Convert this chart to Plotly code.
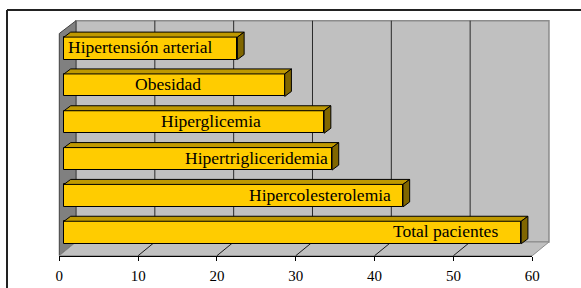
import plotly.graph_objects as go

# ---- data ----
categories = ["Total pacientes", "Hipercolesterolemia", "Hipertrigliceridemia",
              "Hiperglicemia", "Obesidad", "Hipertensión arterial"]
values = [58, 43, 34, 33, 28, 22]
label_pos = [48.4, 32.5, 24.4, 18.7, 13.2, 9.7]   # where the (manually placed) labels sit
tick_vals = [0, 10, 20, 30, 40, 50, 60]
tick_text = ["0", "10", "20", "30", "40", "50", "60"]

# ---- geometry (pixels) ----
W, H = 581, 288
FX0, SCALE = 59.3, 7.883          # front floor axis: pixel of 0, px per unit
YFRONT, YBACK = 255.7, 242.0      # floor front / back edge
BX0 = 76.0                        # back wall pixel of 0
WALL_TOP = 20.7
BAR_X0 = 64.0                     # bar front face pixel of 0
ROW0_PY, PITCH = 232.5, 36.83     # y pixel of first category centre, pixel pitch
BAR_W = 0.611
DX_PX, DY_PX = 6.7, 5.0           # bar depth offset in pixels

def px(x):
    return x / W

def py(y):
    return 1 - y / H

xr = [-BAR_X0 / SCALE, (W - BAR_X0) / SCALE]
yr = [-(H - ROW0_PY) / PITCH, ROW0_PY / PITCH]
dx = DX_PX / SCALE
dy = DY_PX / PITCH

shapes = []

def poly(pts, fill, line, lw=1, ref="paper", layer="below"):
    path = "M " + " L ".join(f"{a},{b}" for a, b in pts) + " Z"
    shapes.append(dict(type="path", path=path, xref=ref if ref == "paper" else "x",
                       yref=ref if ref == "paper" else "y",
                       fillcolor=fill, line=dict(color=line, width=lw), layer=layer))

def ppt(x, y):
    return (px(x), py(y))

x_end_front = FX0 + SCALE * 60
x_end_back = BX0 + SCALE * 60

# back wall
poly([ppt(BX0, WALL_TOP), ppt(x_end_back, WALL_TOP), ppt(x_end_back, YBACK), ppt(BX0, YBACK)],
     "#C0C0C0", "#8C8C8C", 1.5)
# left wall
poly([ppt(FX0, 33.5), ppt(BX0, WALL_TOP), ppt(BX0, YBACK), ppt(FX0, YFRONT)],
     "#808080", "#404040", 1)
# floor
poly([ppt(FX0, YFRONT), ppt(x_end_front, YFRONT), ppt(x_end_back, YBACK), ppt(BX0, YBACK)],
     "#C0C0C0", "#8C8C8C", 1)

# gridlines on back wall and floor
for v in tick_vals[1:-1]:
    xb = BX0 + SCALE * v
    xf = FX0 + SCALE * v
    shapes.append(dict(type="line", xref="paper", yref="paper",
                       x0=px(xb), x1=px(xb), y0=py(WALL_TOP), y1=py(YBACK),
                       line=dict(color="#2a2a2a", width=1), layer="below"))
    shapes.append(dict(type="line", xref="paper", yref="paper",
                       x0=px(xf), x1=px(xb), y0=py(YFRONT), y1=py(YBACK),
                       line=dict(color="#1a1a1a", width=1), layer="below"))

# 3D faces of bars (from data values)
ypos = list(range(len(categories)))
for i, v in zip(ypos, values):
    top = i + BAR_W / 2
    bot = i - BAR_W / 2
    poly([(0, top), (v, top), (v + dx, top + dy), (dx, top + dy)], "#BF9900", "black", 1, ref="data", layer="above")
    poly([(v, bot), (v, top), (v + dx, top + dy), (v + dx, bot + dy)], "#806600", "black", 1, ref="data", layer="above")

# outer border (only top and left edges are visible in the frame)
shapes.append(dict(type="line", xref="paper", yref="paper",
                   x0=px(7), x1=1, y0=py(10), y1=py(10),
                   line=dict(color="#222222", width=2), layer="above"))
shapes.append(dict(type="line", xref="paper", yref="paper",
                   x0=px(7), x1=px(7), y0=py(10), y1=0,
                   line=dict(color="#222222", width=2), layer="above"))

fig = go.Figure()
fig.add_trace(go.Bar(
    x=values, y=ypos, orientation="h", width=BAR_W,
    marker=dict(color="#FFCC00", line=dict(color="black", width=1)),
    hoverinfo="skip", showlegend=False))
# invisible trace for the front value axis
fig.add_trace(go.Scatter(x=[tick_vals[0], tick_vals[-1]], y=[0, 0], xaxis="x2", yaxis="y",
                         mode="markers", marker=dict(opacity=0), hoverinfo="skip", showlegend=False))

annotations = []
for i, (c, lp) in enumerate(zip(categories, label_pos)):
    annotations.append(dict(x=lp, y=i + 0.03, xref="x", yref="y", text=c, showarrow=False,
                            xanchor="center", yanchor="middle",
                            font=dict(family="Liberation Serif", size=17.5, color="black")))

fig.update_layout(
    width=W, height=H, autosize=False,
    margin=dict(l=0, r=0, t=0, b=0, pad=0, autoexpand=False),
    paper_bgcolor="white", plot_bgcolor="rgba(0,0,0,0)",
    shapes=shapes, annotations=annotations,
    xaxis=dict(range=xr, domain=[0, 1], visible=False, fixedrange=True),
    yaxis=dict(range=yr, domain=[0, 1], visible=False, fixedrange=True),
    xaxis2=dict(range=[tick_vals[0], tick_vals[-1]], domain=[px(FX0), px(x_end_front)],
                anchor="free", position=py(YFRONT),
                tickvals=tick_vals, ticktext=tick_text,
                ticks="outside", ticklen=4, tickcolor="black", tickwidth=1,
                ticklabelstandoff=2,
                showline=True, linecolor="black", linewidth=1, showgrid=False, zeroline=False,
                tickfont=dict(family="Liberation Serif", size=15, color="black")),
    bargap=0,
    showlegend=False,
)

fig.write_html("out.html", config={"displayModeBar": False},
               post_script="document.body.style.margin='0';document.body.style.overflow='hidden';")
